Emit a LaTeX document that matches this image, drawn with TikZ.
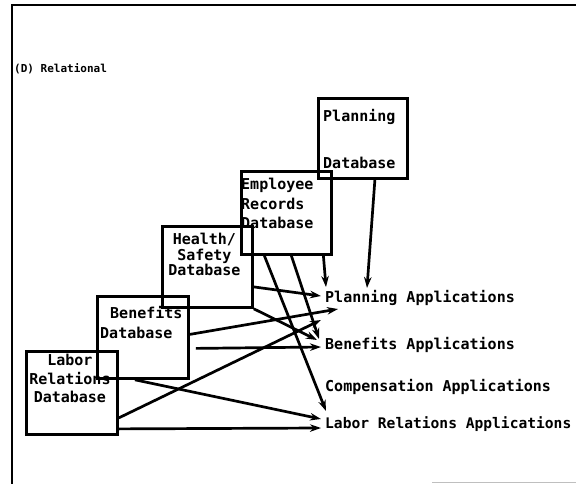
\documentclass[tikz,border=0pt]{standalone}
\usepackage{fontspec}
\newfontfamily\typefont{DejaVu Sans Mono}
\usetikzlibrary{arrows.meta,positioning,calc}
\newcommand{\dbfont}{\typefont\bfseries\fontsize{15}{18}\selectfont}
\newcommand{\ttlfont}{\typefont\bfseries\fontsize{11}{13}\selectfont}

\begin{document}
\begin{tikzpicture}[x=1pt,y=-1pt,
dbbox/.style={draw,line width=2.8pt,inner sep=0pt,anchor=north west},
dbtext/.style={font=\dbfont,inner sep=0pt},
app/.style={font=\dbfont,inner sep=0pt,anchor=west},
arr/.style={-{Stealth[length=11pt,width=7.5pt]},line width=2.7pt}]
\useasboundingbox (0,0) rectangle (576,484);
\draw[line width=2.8pt] (12,484) -- (12,5) -- (576,5);
\draw[gray!50,line width=1pt] (432,482) -- (576,482);
\node[font=\ttlfont,inner sep=0pt,anchor=west] (title) at (14,69) {(D) Relational};
\node[dbbox,minimum width=89pt,minimum height=80pt] (plandb) at (317,97) {};
\node[dbbox,minimum width=90pt,minimum height=83pt] (empdb) at (240,170) {};
\node[dbbox,minimum width=90pt,minimum height=81pt] (hsdb) at (161,225) {};
\node[dbbox,minimum width=91pt,minimum height=82pt] (bendb) at (96,295) {};
\node[dbbox,minimum width=91pt,minimum height=83pt] (labdb) at (25,350) {};
\node[dbtext,anchor=north west,align=left] (plantxt) at ([shift={(6,12)}]plandb.north west) {Planning\\[29pt]Database};
\node[dbtext,anchor=north west,align=left] (emptxt) at ([shift={(1,8)}]empdb.north west) {Employee\\[1.5pt]Records\\[1.5pt]Database};
\node[dbtext,anchor=north,align=center] (hstxt) at ([shift={(-3,8)}]hsdb.north) {Health/\\[-2.5pt]Safety\\[-2.5pt]Database};
\node[dbtext,anchor=north west,align=left] (bentxt) at ([shift={(4,11)}]bendb.north west) {\hspace*{10pt}Benefits\\[2pt]Database};
\node[dbtext,anchor=north,align=center] (labtxt) at ([shift={(-2,4)}]labdb.north) {Labor\\[0.5pt]Relations\\[0.5pt]Database};
\node[app] (planapp) at (325,298) {Planning Applications};
\node[app] (benapp) at (325,345) {Benefits Applications};
\node[app] (compapp) at (325,387) {Compensation Applications};
\node[app,font=\dbfont\fontsize{14.6}{18}\selectfont] (labapp) at (325,424) {Labor Relations Applications};
\draw[arr] ([shift={(12,0)}]plandb.south) -- ([shift={(42,-10)}]planapp.west);
\draw[arr] ([shift={(37,0)}]empdb.south) -- ([shift={(1,-11)}]planapp.west);
\draw[arr] ([shift={(5,0)}]empdb.south) -- ([shift={(-6,-6)}]benapp.west);
\draw[arr] ([shift={(-22,0)}]empdb.south) -- ([shift={(1,-13)}]labapp.west);
\draw[arr] ([shift={(0,20)}]hsdb.east) -- ([shift={(-4,-2)}]planapp.west);
\draw[arr] (hsdb.south east) -- ([shift={(-8,-5)}]benapp.west);
\draw[arr] ([shift={(0,-3)}]bendb.east) -- ([shift={(13,11)}]planapp.west);
\draw[arr] ([shift={(0,25)}]labdb.east) -- ([shift={(-4,22)}]planapp.west);
\draw[arr] ([shift={(6,11)}]bendb.east) -- ([shift={(-4,2)}]benapp.west);
\draw[arr] ([shift={(-8,0)}]bendb.south) -- ([shift={(-4,-5)}]labapp.west);
\draw[arr] ([shift={(0,36)}]labdb.east) -- ([shift={(-4,4)}]labapp.west);
\end{tikzpicture}
\end{document}
